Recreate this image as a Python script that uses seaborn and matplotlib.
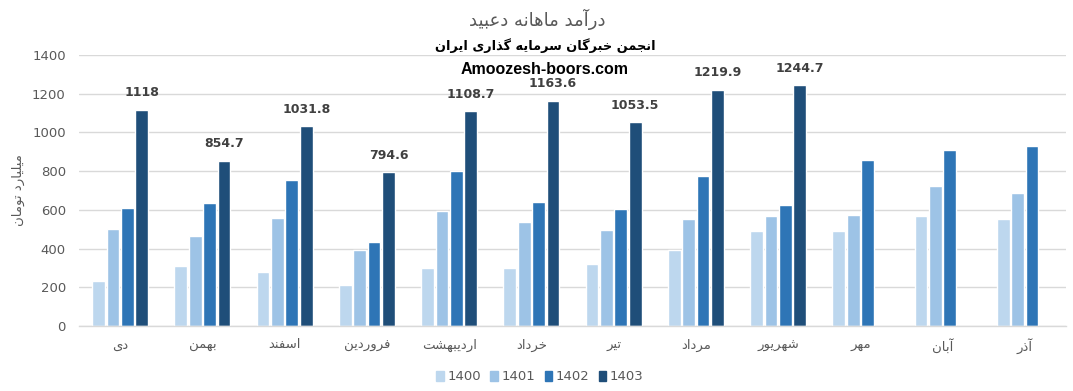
import numpy as np
import pandas as pd
import matplotlib
matplotlib.use("Agg")
import matplotlib.pyplot as plt
import seaborn as sns

# ---------------- data ----------------
months = ["دی", "بهمن", "اسفند", "فروردین", "اردیبهشت", "خرداد",
          "تیر", "مرداد", "شهریور", "مهر", "آبان", "آذر"]
years = ["1400", "1401", "1402", "1403"]
v1400 = [232, 309, 278, 211, 299, 299, 321, 392, 490, 490, 567, 552]
v1401 = [500, 466, 559, 392, 593, 536, 495, 552, 567, 572, 722, 686]
v1402 = [610, 634, 755, 433, 801, 639, 603, 773, 624, 856, 908, 928]
v1403 = [1118, 854.7, 1031.8, 794.6, 1108.7, 1163.6, 1053.5, 1219.9, 1244.7,
         np.nan, np.nan, np.nan]
labels1403 = ["1118", "854.7", "1031.8", "794.6", "1108.7", "1163.6",
              "1053.5", "1219.9", "1244.7", "", "", ""]
colors = ["#BDD7EE", "#9DC3E6", "#2E75B6", "#1F4E79"]
title = "درآمد ماهانه دعبید"
subtitle = "انجمن خبرگان سرمایه گذاری ایران"
site = "Amoozesh-boors.com"
ylabel = "میلیارد تومان"

# ------------- simple Persian shaping (presentation forms + RTL) -------------
FORMS = {
    "\u0627": ("\uFE8D", "\uFE8E", None, None),
    "\u0622": ("\uFE81", "\uFE82", None, None),
    "\u062F": ("\uFEA9", "\uFEAA", None, None),
    "\u0630": ("\uFEAB", "\uFEAC", None, None),
    "\u0631": ("\uFEAD", "\uFEAE", None, None),
    "\u0632": ("\uFEAF", "\uFEB0", None, None),
    "\u0648": ("\uFEED", "\uFEEE", None, None),
    "\u0628": ("\uFE8F", "\uFE90", "\uFE91", "\uFE92"),
    "\u062A": ("\uFE95", "\uFE96", "\uFE97", "\uFE98"),
    "\u062C": ("\uFE9D", "\uFE9E", "\uFE9F", "\uFEA0"),
    "\u062E": ("\uFEA5", "\uFEA6", "\uFEA7", "\uFEA8"),
    "\u0633": ("\uFEB1", "\uFEB2", "\uFEB3", "\uFEB4"),
    "\u0634": ("\uFEB5", "\uFEB6", "\uFEB7", "\uFEB8"),
    "\u0639": ("\uFEC9", "\uFECA", "\uFECB", "\uFECC"),
    "\u0641": ("\uFED1", "\uFED2", "\uFED3", "\uFED4"),
    "\u0644": ("\uFEDD", "\uFEDE", "\uFEDF", "\uFEE0"),
    "\u0645": ("\uFEE1", "\uFEE2", "\uFEE3", "\uFEE4"),
    "\u0646": ("\uFEE5", "\uFEE6", "\uFEE7", "\uFEE8"),
    "\u0647": ("\uFEE9", "\uFEEA", "\uFEEB", "\uFEEC"),
    "\u06CC": ("\uFBFC", "\uFBFD", "\uFBFE", "\uFBFF"),
    "\u06AF": ("\uFB92", "\uFB93", "\uFB94", "\uFB95"),
    "\u067E": ("\uFB56", "\uFB57", "\uFB58", "\uFB59"),
    "\u06A9": ("\uFB8E", "\uFB8F", "\uFB90", "\uFB91"),
}


def shape(text):
    out = []
    n = len(text)
    for i, ch in enumerate(text):
        f = FORMS.get(ch)
        if f is None:
            out.append(ch)
            continue
        prev = text[i - 1] if i > 0 else None
        nxt = text[i + 1] if i < n - 1 else None
        jp = prev in FORMS and FORMS[prev][2] is not None
        jn = nxt in FORMS and f[2] is not None
        if jp and jn:
            out.append(f[3])
        elif jp:
            out.append(f[1])
        elif jn:
            out.append(f[2])
        else:
            out.append(f[0])
    return "".join(reversed(out))


# ---------------- data frame ----------------
rows = []
for yr, vals in zip(years, [v1400, v1401, v1402, v1403]):
    for m, v in zip(months, vals):
        rows.append({"month": shape(m), "year": yr, "value": v})
df = pd.DataFrame(rows)

sns.set_theme(style="white")
plt.rcParams["font.family"] = ["DejaVu Sans"]

fig = plt.figure(figsize=(10.73, 3.91), dpi=100)
ax = fig.add_axes([79 / 1073, 65 / 391, 987 / 1073, 271 / 391])

sns.barplot(data=df, x="month", y="value", hue="year", palette=colors,
            width=0.7, gap=0.12, saturation=1, ax=ax, legend=True,
            order=[shape(m) for m in months], hue_order=years)

ax.set_ylim(0, 1400)
ax.set_xlim(-0.5, 11.5)
ax.set_yticks(range(0, 1401, 200))
ax.yaxis.grid(True, color="#D9D9D9", linewidth=1)
ax.set_axisbelow(True)
for s in ["top", "right", "left"]:
    ax.spines[s].set_visible(False)
ax.spines["bottom"].set_color("#D9D9D9")
ax.spines["bottom"].set_linewidth(1)
ax.tick_params(axis="both", length=0, colors="#595959", labelsize=9.5)
ax.tick_params(axis="y", pad=9.5)
ax.tick_params(axis="x", pad=9)
ax.set_xlabel("")
ax.set_ylabel("")

# data labels for 1403 (bars from the library's own containers)
cont = ax.containers[3]
bars = [b for b in cont if b is not None]
for b in bars:
    h = b.get_height()
    if h is None or not np.isfinite(h):
        continue
    idx = int(round(b.get_x() + b.get_width() / 2))
    lab = labels1403[idx]
    if not lab:
        continue
    ax.annotate(lab, (b.get_x() + b.get_width() / 2, h), xytext=(0, 7.5),
                textcoords="offset points", ha="center", va="bottom",
                fontsize=9, fontweight="bold", color="#404040",
                annotation_clip=False)

# legend
ax.get_legend().remove()
handles = [plt.Rectangle((0, 0), 1, 1, color=c) for c in colors]
fig.legend(handles, years, loc="center", bbox_to_anchor=(540 / 1073, 1 - 377 / 391),
           ncol=4, frameon=False, fontsize=9.5, handlelength=0.55, handleheight=0.8,
           handletextpad=0.3, columnspacing=0.7, labelcolor="#595959")

# titles
fig.text(537 / 1073, 1 - 19 / 391, shape(title), ha="center", va="center",
         fontsize=13, color="#595959")
fig.text(545 / 1073, 1 - 46 / 391, shape(subtitle), ha="center", va="center",
         fontsize=9.3, fontweight="bold", color="black")
fig.text(545 / 1073, 1 - 70 / 391, site, ha="center", va="center",
         fontsize=11.5, fontweight="bold", color="black", family="Liberation Sans")
fig.text(18 / 1073, 1 - 190 / 391, shape(ylabel), ha="center", va="center",
         rotation=90, fontsize=9.5, color="#595959")

fig.savefig("out.png", dpi=100)
